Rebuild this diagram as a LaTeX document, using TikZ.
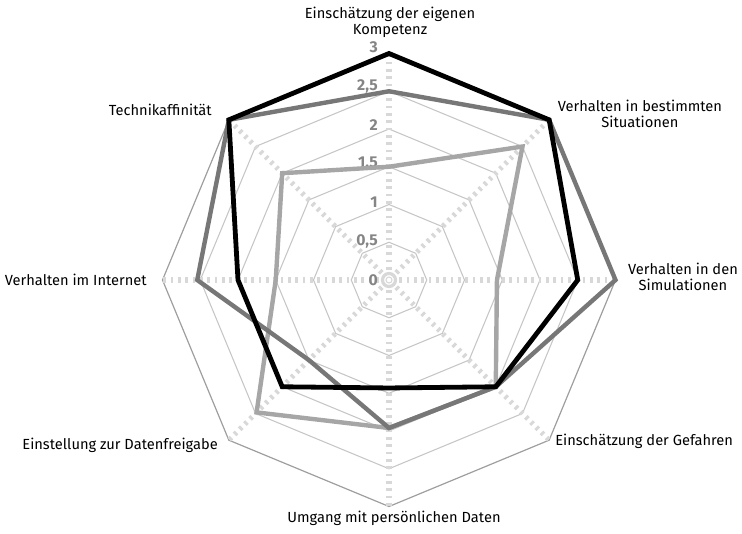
\documentclass[tikz,border=0pt]{standalone}
\usepackage{fontspec}
\setmainfont{Fira Sans}
\usetikzlibrary{calc}
\definecolor{serA}{HTML}{000000}
\definecolor{serB}{HTML}{777777}
\definecolor{serC}{HTML}{A6A6A6}
\definecolor{gridc}{HTML}{C6C6C6}
\definecolor{outerc}{HTML}{9E9E9E}
\definecolor{spokec}{HTML}{D8D8D8}
\definecolor{tickc}{HTML}{858585}
\tikzset{
  gridline/.style={draw=gridc, line width=0.8pt},
  outerline/.style={draw=outerc, line width=0.9pt},
  spokeline/.style={draw=spokec, line width=3.8pt, dash pattern=on 2.2pt off 3.3pt},
  series/.style={line width=3.3pt, miter limit=2},
  axlabel/.style={font=\fontsize{11}{12}\selectfont, inner sep=0pt, align=center},
  ticklabel/.style={font=\fontsize{11.8}{12}\selectfont\bfseries, text=tickc, inner sep=0pt, anchor=east}
}
\begin{document}
\begin{tikzpicture}[x=0.75pt,y=0.75pt]
\useasboundingbox (-389,-253) rectangle (353,280);
% grid polygons
\foreach \k in {1,...,5}{
  \pgfmathsetmacro\r{\k*0.5*75.5}
  \draw[gridline] (90:\r) -- (45:\r) -- (0:\r) -- (-45:\r) -- (-90:\r) -- (-135:\r) -- (180:\r) -- (135:\r) -- cycle;
}
\foreach \i in {0,...,7}{
  \coordinate (ax\i) at ({90-45*\i}:226.5);
}
\draw[outerline] (ax0) -- (ax1) -- (ax2) -- (ax3) -- (ax4) -- (ax5) -- (ax6) -- (ax7) -- cycle;
% spokes
\coordinate (ctr) at (0,0);
\foreach \i in {0,...,7}{
  \draw[spokeline] ($(ctr)!0.045!(ax\i)$) -- (ax\i);
}
\draw[draw=spokec, line width=2.4pt] (ctr) circle (6.5);
\draw[draw=spokec, line width=0.8pt] (ctr) circle (3);
% tick labels
\foreach \t [count=\k from 0] in {0,{0,5},1,{1,5},2,{2,5},3}{
  \node[ticklabel] (tk\k) at (-11,{\k*38.8}) {\t};
}
% data
\foreach \v [count=\i from 0] in {3,3,2.5,2,1.43,2,2,3}{
  \coordinate (a\i) at ({90-45*\i}:{\v*75.5});
}
\foreach \v [count=\i from 0] in {2.5,3,3,2,1.96,1.5,2.54,3}{
  \coordinate (b\i) at ({90-45*\i}:{\v*75.5});
}
\foreach \v [count=\i from 0] in {1.5,2.5,1.43,2,1.96,2.48,1.5,2}{
  \coordinate (c\i) at ({90-45*\i}:{\v*75.5});
}
\draw[series, draw=serC] (c0) -- (c1) -- (c2) -- (c3) -- (c4) -- (c5) -- (c6) -- (c7) -- cycle;
\draw[series, draw=serB] (b0) -- (b1) -- (b2) -- (b3) -- (b4) -- (b5) -- (b6) -- (b7) -- cycle;
\draw[series, draw=serA, line width=3.6pt] (a0) -- (a1) -- (a2) -- (a3) -- (a4) -- (a5) -- (a6) -- (a7) -- cycle;
% axis labels
\node[axlabel] (l0) at (1,258) {Einschätzung der eigenen\\Kompetenz};
\node[axlabel] (l1) at (251,166) {Verhalten in bestimmten\\Situationen};
\node[axlabel] (l2) at (294,3) {Verhalten in den\\Simulationen};
\node[axlabel, anchor=west] (l3) at (166,-161) {Einschätzung der Gefahren};
\node[axlabel] (l4) at (5,-238) {Umgang mit persönlichen Daten};
\node[axlabel, anchor=east] (l5) at (-171,-165) {Einstellung zur Datenfreigabe};
\node[axlabel, anchor=east] (l6) at (-242,0) {Verhalten im Internet};
\node[axlabel, anchor=east] (l7) at (-177,170) {Technikaffinität};
\end{tikzpicture}
\end{document}
